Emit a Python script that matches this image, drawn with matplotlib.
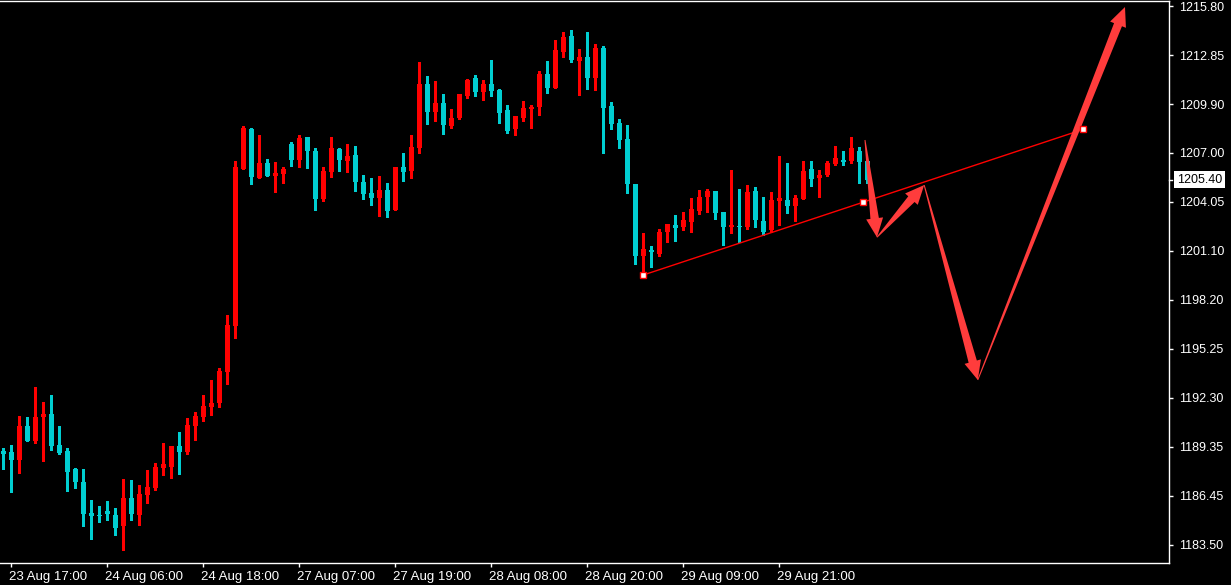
import matplotlib
matplotlib.use('Agg')
import matplotlib.pyplot as plt
import matplotlib.transforms as mtransforms
from matplotlib.patches import Polygon
import numpy as np

# XAUUSD H1 candles
opens = [1189.15, 1189.09, 1188.59, 1190.63, 1189.73, 1191.19, 1191.35, 1189.49, 1189.13, 1188.07,
         1187.27, 1185.42, 1185.30, 1185.54, 1185.30, 1184.66, 1186.31, 1185.31, 1186.49, 1186.93,
         1188.13, 1188.19, 1189.43, 1189.09, 1190.65, 1191.19, 1191.77, 1192.01, 1193.87, 1196.64,
         1206.03, 1208.43, 1205.49, 1206.39, 1205.61, 1205.73, 1207.53, 1206.57, 1207.95, 1207.11,
         1204.23, 1205.85, 1207.23, 1206.51, 1206.87, 1205.25, 1204.59, 1204.29, 1204.77, 1203.57,
         1206.15, 1205.91, 1207.29, 1211.13, 1209.45, 1209.99, 1208.61, 1209.09, 1210.41, 1211.49,
         1210.65, 1211.13, 1210.77, 1209.57, 1208.43, 1209.09, 1209.63, 1209.75, 1211.73, 1210.89,
         1213.04, 1214.00, 1212.50, 1212.74, 1211.49, 1213.28, 1209.81, 1208.79, 1207.83, 1205.13,
         1200.82, 1201.18, 1200.94, 1202.26, 1202.68, 1202.56, 1202.86, 1203.51, 1204.35, 1204.71,
         1203.45, 1202.56, 1202.62, 1202.56, 1204.71, 1202.92, 1202.38, 1204.11, 1204.17, 1203.81,
         1204.23, 1206.03, 1205.49, 1205.67, 1206.33, 1206.57, 1206.51, 1207.11, 1206.51]
highs = [1189.31, 1189.49, 1191.23, 1191.17, 1192.99, 1192.07, 1192.49, 1190.63, 1189.29, 1188.11,
         1188.05, 1186.19, 1185.84, 1186.14, 1185.72, 1187.45, 1187.39, 1187.09, 1187.99, 1188.41,
         1189.61, 1189.43, 1190.27, 1191.11, 1191.47, 1192.49, 1193.39, 1194.11, 1197.28, 1206.51,
         1208.61, 1208.49, 1208.07, 1206.63, 1206.45, 1206.15, 1207.65, 1208.07, 1207.95, 1207.29,
         1206.15, 1207.95, 1207.29, 1207.53, 1207.41, 1205.67, 1205.49, 1205.61, 1205.19, 1206.15,
         1206.99, 1208.07, 1212.44, 1211.61, 1211.31, 1210.53, 1209.63, 1210.53, 1211.43, 1211.67,
         1211.37, 1212.56, 1210.83, 1209.87, 1209.21, 1210.11, 1209.87, 1211.90, 1212.50, 1213.76,
         1214.24, 1214.36, 1213.22, 1214.24, 1213.52, 1213.40, 1210.05, 1209.03, 1208.67, 1205.13,
         1202.20, 1201.42, 1202.44, 1202.74, 1203.28, 1203.45, 1204.29, 1204.77, 1204.83, 1204.71,
         1203.45, 1205.97, 1204.83, 1205.07, 1204.95, 1204.35, 1204.65, 1206.81, 1206.39, 1204.47,
         1206.51, 1206.51, 1205.97, 1206.51, 1207.41, 1207.11, 1207.95, 1207.35, 1206.57]
lows = [1188.05, 1186.69, 1187.83, 1189.73, 1189.63, 1188.55, 1189.21, 1188.97, 1186.73, 1186.93,
        1184.66, 1183.88, 1184.89, 1185.01, 1184.12, 1183.22, 1185.01, 1184.71, 1186.03, 1186.81,
        1187.71, 1187.53, 1187.77, 1188.97, 1189.81, 1190.95, 1191.29, 1191.77, 1193.15, 1195.92,
        1206.03, 1205.13, 1205.49, 1205.61, 1204.65, 1205.19, 1206.21, 1206.15, 1206.09, 1203.57,
        1204.11, 1205.55, 1205.91, 1205.85, 1204.71, 1204.23, 1203.87, 1203.22, 1203.16, 1203.57,
        1205.31, 1205.49, 1206.99, 1208.73, 1208.91, 1208.13, 1208.49, 1209.03, 1210.29, 1210.41,
        1210.17, 1210.41, 1208.79, 1208.19, 1208.07, 1208.91, 1208.49, 1209.27, 1210.59, 1210.89,
        1212.74, 1212.44, 1210.47, 1210.83, 1210.77, 1206.99, 1208.43, 1207.29, 1204.59, 1200.34,
        1199.68, 1200.16, 1200.82, 1201.66, 1201.72, 1202.38, 1202.26, 1203.33, 1203.45, 1203.04,
        1201.48, 1202.20, 1201.66, 1202.44, 1202.56, 1202.08, 1202.26, 1202.68, 1203.39, 1202.92,
        1204.23, 1205.01, 1204.35, 1205.61, 1206.27, 1206.27, 1206.39, 1205.19, 1205.19]
closes = [1188.97, 1188.59, 1190.63, 1189.73, 1191.17, 1191.35, 1189.45, 1189.03, 1187.89, 1187.29,
          1185.37, 1185.25, 1185.26, 1185.37, 1184.54, 1186.31, 1185.37, 1186.55, 1186.97, 1188.17,
          1188.35, 1189.43, 1189.09, 1190.69, 1191.23, 1191.83, 1192.01, 1193.93, 1196.68, 1206.15,
          1208.49, 1205.55, 1206.39, 1205.61, 1205.79, 1206.03, 1206.57, 1207.89, 1207.11, 1204.23,
          1205.91, 1207.29, 1206.57, 1206.81, 1205.25, 1204.53, 1204.29, 1204.77, 1203.51, 1206.15,
          1205.85, 1207.35, 1211.13, 1209.45, 1209.99, 1208.67, 1209.09, 1210.53, 1211.37, 1210.65,
          1211.13, 1210.71, 1209.39, 1208.31, 1209.21, 1209.69, 1209.75, 1211.73, 1210.89, 1213.16,
          1213.94, 1212.56, 1212.74, 1211.49, 1213.28, 1209.69, 1208.73, 1207.77, 1205.13, 1200.82,
          1201.24, 1201.06, 1202.26, 1202.74, 1202.50, 1202.98, 1203.63, 1204.35, 1204.71, 1203.39,
          1202.56, 1202.68, 1202.56, 1204.65, 1202.98, 1202.26, 1204.17, 1204.29, 1203.81, 1204.29,
          1205.91, 1205.43, 1205.67, 1206.39, 1206.69, 1206.45, 1207.29, 1206.45, 1205.40]

time_labels = ['23 Aug 17:00', '24 Aug 06:00', '24 Aug 18:00', '27 Aug 07:00', '27 Aug 19:00',
               '28 Aug 08:00', '28 Aug 20:00', '29 Aug 09:00', '29 Aug 21:00']
price_labels = ['1183.50', '1186.45', '1189.35', '1192.30', '1195.25', '1198.20',
                '1201.10', '1204.05', '1207.00', '1209.90', '1212.85', '1215.80']
last_price = 1205.40

# trend line (bar index, price) and the drawn arrow path
trend_bars = [80, 135]
trend_prices = [1199.68, 1208.41]
arrow_bars = [107.7, 109.2, 115.1, 121.8, 140.2]
arrow_prices = [1207.77, 1201.94, 1205.07, 1193.39, 1215.74]

UP = '#ff0000'
DOWN = '#00ced1'
ARROW = '#ff3c3c'

plt.rcParams['font.family'] = ['Liberation Sans', 'DejaVu Sans']

W, H = 1231, 585
fig = plt.figure(figsize=(W / 100, H / 100), dpi=100, facecolor='black')
ax = fig.add_axes([0, 22 / H, 1169 / W, 562 / H], facecolor='black')

idx = np.arange(len(opens))
o = np.array(opens); c = np.array(closes)
hi = np.array(highs); lo = np.array(lows)
cols = np.where(c >= o, UP, DOWN)

ax.vlines(idx, lo, hi, colors=cols, lw=1, antialiased=False, zorder=2)
bottom = np.minimum(o, c)
height = np.maximum(np.abs(c - o), 0.06)
ax.bar(idx, height, bottom=bottom, width=0.68, color=cols, lw=0,
       antialiased=False, zorder=3)

ax.set_xlim(-0.41, 145.7)
ax.set_ylim(1182.42, 1216.10)

# trend line with selection points
ax.plot(trend_bars, trend_prices, color=UP, lw=1, zorder=4)
mid_bar = np.mean(trend_bars)
mid_price = np.mean(trend_prices)
ax.plot(trend_bars + [mid_bar], trend_prices + [mid_price], ls='none', marker='s',
        ms=4.5, mfc='white', mec=UP, mew=1, zorder=6)


def tapered_arrow(p0, p1, w0=1.0, w1=8.5, hw=17.0, hl=19.0):
    p0 = np.asarray(p0, float); p1 = np.asarray(p1, float)
    d = p1 - p0
    u = d / np.hypot(*d)
    n = np.array([-u[1], u[0]])
    base = p1 - u * hl
    return [p0 + n * w0 / 2, base + n * w1 / 2, base + n * hw / 2, p1,
            base - n * hw / 2, base - n * w1 / 2, p0 - n * w0 / 2]


pts = ax.transData.transform(np.column_stack([arrow_bars, arrow_prices]))
for a, b in zip(pts[:-1], pts[1:]):
    ax.add_patch(Polygon(tapered_arrow(a, b), closed=True, fc=ARROW, ec='none',
                         transform=mtransforms.IdentityTransform(), zorder=5))

# axes frame like the terminal
for s in ['top', 'bottom', 'right']:
    ax.spines[s].set_color('white')
    ax.spines[s].set_linewidth(1)
ax.spines['left'].set_visible(False)

ax.yaxis.tick_right()
ax.set_yticks(np.linspace(1183.50, 1215.80, len(price_labels)))
ax.set_yticklabels(price_labels)
ax.tick_params(axis='y', colors='white', length=3, width=1, pad=4, labelsize=9)

ax.set_xticks(1 + 12 * np.arange(len(time_labels)))
ax.set_xticklabels(time_labels, ha='left')
ax.tick_params(axis='x', colors='white', length=3, width=1, pad=3, labelsize=9.5)
for lab in ax.get_xticklabels():
    lab.set_transform(lab.get_transform() + mtransforms.ScaledTranslation(-2 / 100, 0, fig.dpi_scale_trans))

# current price marker on the price scale
tr = mtransforms.blended_transform_factory(ax.transAxes, ax.transData)
ax.plot([1.0, 1.0 + 3 / 1169], [last_price, last_price], color='white', lw=1,
        transform=tr, clip_on=False)
ax.text(1.0 + 8 / 1169, last_price, '%.2f' % last_price, transform=tr, color='black',
        fontsize=9, va='center', ha='left',
        bbox=dict(boxstyle='square,pad=0.22', fc='white', ec='none'))

fig.savefig('out.png', dpi=100, facecolor='black')
